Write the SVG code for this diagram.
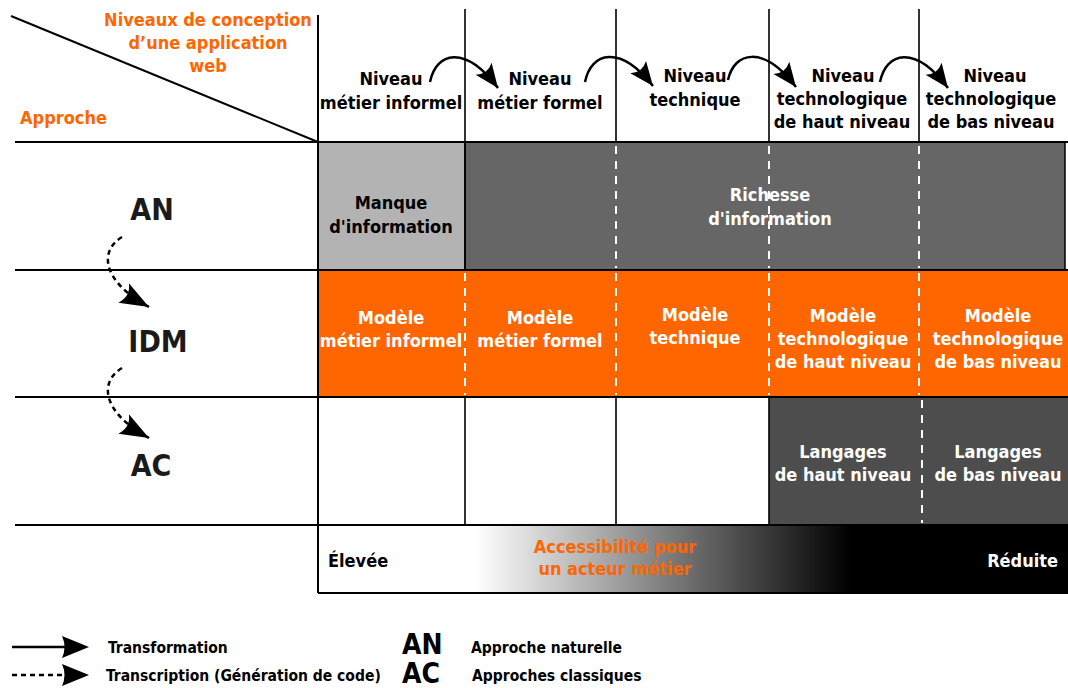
<svg xmlns="http://www.w3.org/2000/svg" width="1068" height="688" viewBox="0 0 1068 688">
<style>
text{font-family:"DejaVu Sans Condensed","DejaVu Sans","Liberation Sans",sans-serif;font-stretch:condensed;font-weight:bold}
.h{font-size:18px;text-anchor:middle;fill:#000}
.w{font-size:18px;text-anchor:middle;fill:#fff}
.o{font-size:18px;fill:#ff6600}
.big{font-size:30px;fill:#1a1a1a}
.lbig{font-size:28px;fill:#000}
.lg{font-size:15.5px;fill:#000}
.st{text-anchor:start}
.en{text-anchor:end}
.grid{stroke:#000;stroke-width:2;fill:none}
.vl{stroke:#000;stroke-width:1.6;fill:none}
.wd{stroke:#fff;stroke-width:2;stroke-dasharray:8 7;fill:none}
.tr{stroke:#000;stroke-width:2.5;fill:none}
.tc{stroke:#000;stroke-width:2.5;stroke-dasharray:5 4;fill:none}
</style>
<defs>
<marker id="ah" markerUnits="userSpaceOnUse" viewBox="-26 -13 28 26" markerWidth="28" markerHeight="26" refX="0" refY="0" orient="auto">
<path d="M0,0 L-24,-10 Q-17,0 -24,10 Z" fill="#000"/>
</marker>
<marker id="ah2" markerUnits="userSpaceOnUse" viewBox="-31 -13 33 26" markerWidth="33" markerHeight="26" refX="0" refY="0" orient="auto">
<path d="M0,0 L-29,-11 Q-21,0 -29,11 Z" fill="#000"/>
</marker>
<linearGradient id="acc" x1="318" y1="0" x2="1068" y2="0" gradientUnits="userSpaceOnUse">
<stop offset="0.21" stop-color="#fff"/>
<stop offset="0.71" stop-color="#000"/>
</linearGradient>
</defs>

<g id="cells">
<rect x="318" y="142" width="147" height="128" fill="#b3b3b3"/>
<rect x="465" y="142" width="600" height="128" fill="#666666" stroke="#000" stroke-width="1.5"/>
<rect x="318" y="270" width="750" height="127" fill="#ff6600"/>
<rect x="769" y="397" width="299" height="128" fill="#4d4d4d"/>
<rect x="318" y="525" width="750" height="68" fill="url(#acc)"/>
</g>

<g id="grid">
<line class="grid" x1="11" y1="16" x2="318" y2="142"/>
<line class="grid" x1="15" y1="142" x2="1068" y2="142"/>
<line class="grid" x1="15" y1="270" x2="1068" y2="270"/>
<line class="grid" x1="15" y1="397" x2="1068" y2="397"/>
<line class="grid" x1="15" y1="525" x2="1068" y2="525"/>
<line class="grid" x1="318" y1="593" x2="1068" y2="593"/>
<line class="grid" x1="318" y1="15" x2="318" y2="593"/>
<line class="vl" x1="465" y1="9" x2="465" y2="142"/>
<line class="vl" x1="616" y1="9" x2="616" y2="142"/>
<line class="vl" x1="769" y1="9" x2="769" y2="142"/>
<line class="vl" x1="919" y1="9" x2="919" y2="142"/>
<line class="vl" x1="465" y1="142" x2="465" y2="270"/>
<line class="vl" x1="465" y1="397" x2="465" y2="525"/>
<line class="vl" x1="616" y1="397" x2="616" y2="525"/>
<line class="vl" x1="769" y1="397" x2="769" y2="525"/>
<line class="wd" x1="616" y1="146" x2="616" y2="268"/>
<line class="wd" x1="769" y1="146" x2="769" y2="268"/>
<line class="wd" x1="919" y1="146" x2="919" y2="268"/>
<line class="wd" x1="465" y1="273" x2="465" y2="395"/>
<line class="wd" x1="616" y1="273" x2="616" y2="395"/>
<line class="wd" x1="769" y1="273" x2="769" y2="395"/>
<line class="wd" x1="919" y1="273" x2="919" y2="395"/>
<line class="wd" x1="922" y1="400" x2="922" y2="523"/>
</g>

<g id="titles">
<text class="o" text-anchor="middle"><tspan x="208" y="26">Niveaux de conception</tspan><tspan x="208" y="49">d’une application</tspan><tspan x="208" y="72">web</tspan></text>
<text class="o" x="20" y="124">Approche</text>
</g>

<g id="header-col1"><text class="h"><tspan x="391" y="85">Niveau</tspan><tspan x="391" y="109">métier informel</tspan></text></g>
<g id="header-col2"><text class="h"><tspan x="540" y="85">Niveau</tspan><tspan x="540" y="109">métier formel</tspan></text></g>
<g id="header-col3"><text class="h"><tspan x="695" y="82">Niveau</tspan><tspan x="695" y="106">technique</tspan></text></g>
<g id="header-col4"><text class="h"><tspan x="843" y="82">Niveau</tspan><tspan x="842" y="105">technologique</tspan><tspan x="842" y="128">de haut niveau</tspan></text></g>
<g id="header-col5"><text class="h"><tspan x="995" y="82">Niveau</tspan><tspan x="991" y="105">technologique</tspan><tspan x="991" y="128">de bas niveau</tspan></text></g>

<g id="row-AN">
<text class="big" x="152" y="220" text-anchor="middle">AN</text>
<text class="h"><tspan x="391" y="209">Manque</tspan><tspan x="391" y="233">d'information</tspan></text>
<text class="w"><tspan x="770" y="201">Richesse</tspan><tspan x="770" y="225">d'information</tspan></text>
</g>

<g id="row-IDM">
<text class="big" x="158" y="352" text-anchor="middle">IDM</text>
<text class="w"><tspan x="391" y="324">Modèle</tspan><tspan x="391" y="347">métier informel</tspan></text>
<text class="w"><tspan x="540" y="324">Modèle</tspan><tspan x="540" y="347">métier formel</tspan></text>
<text class="w"><tspan x="695" y="321">Modèle</tspan><tspan x="695" y="344">technique</tspan></text>
<text class="w"><tspan x="843" y="322">Modèle</tspan><tspan x="843" y="345">technologique</tspan><tspan x="843" y="368">de haut niveau</tspan></text>
<text class="w"><tspan x="998" y="322">Modèle</tspan><tspan x="998" y="345">technologique</tspan><tspan x="998" y="368">de bas niveau</tspan></text>
</g>

<g id="row-AC">
<text class="big" x="151" y="476" text-anchor="middle">AC</text>
<text class="w"><tspan x="843" y="458">Langages</tspan><tspan x="843" y="481">de haut niveau</tspan></text>
<text class="w"><tspan x="998" y="458">Langages</tspan><tspan x="998" y="481">de bas niveau</tspan></text>
</g>

<g id="accessibility">
<text class="h st" x="328" y="567">Élevée</text>
<text class="o" text-anchor="middle"><tspan x="615" y="553">Accessibilité pour</tspan><tspan x="615" y="575">un acteur métier</tspan></text>
<text class="w en" x="1058" y="567">Réduite</text>
</g>

<g id="connectors">
<path class="tr" d="M430,82 C436,52 465,44 498,88" marker-end="url(#ah)"/>
<path class="tr" d="M585,82 C591,52 620,44 653,86" marker-end="url(#ah)"/>
<path class="tr" d="M728,80 C734,52 763,44 796,87" marker-end="url(#ah)"/>
<path class="tr" d="M880,82 C886,52 915,44 948,88" marker-end="url(#ah)"/>
<path class="tc" d="M122,237 C100,250 100,280 149,307" marker-end="url(#ah2)"/>
<path class="tc" d="M122,368 C100,381 100,411 149,438" marker-end="url(#ah2)"/>
</g>

<g id="legend">
<line class="tr" x1="12" y1="647" x2="68" y2="647"/>
<path d="M89,647 L62,636 Q67,647 62,658 Z" fill="#000"/>
<line class="tc" x1="12" y1="675" x2="66" y2="675"/>
<path d="M89,675 L62,664 Q67,675 62,686 Z" fill="#000"/>
<text class="lg" x="108" y="653">Transformation</text>
<text class="lg" x="106" y="681">Transcription (Génération de code)</text>
<text class="lbig" x="402" y="654">AN</text>
<text class="lbig" x="402" y="683">AC</text>
<text class="lg" x="471" y="653">Approche naturelle</text>
<text class="lg" x="472" y="681">Approches classiques</text>
</g>
</svg>
